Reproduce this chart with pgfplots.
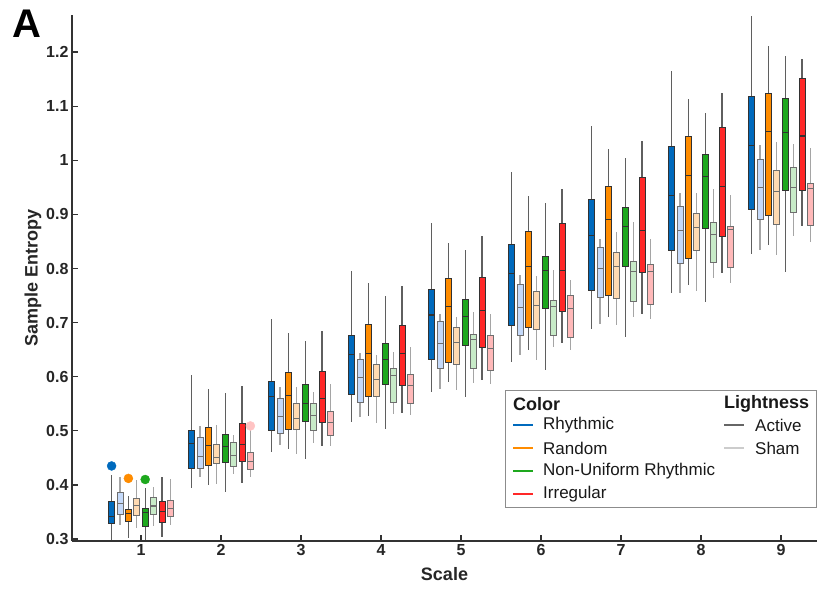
\documentclass[border=0pt]{standalone}
\usepackage{fontspec}
\setmainfont{Liberation Sans}
\usepackage{pgfplots}
\usepackage{pgfplotstable}
\pgfplotsset{compat=1.18}
\usepgfplotslibrary{statistics}

\definecolor{RA}{RGB}{0,106,189}
\definecolor{RS}{RGB}{197,218,250}
\definecolor{NA}{RGB}{255,140,0}
\definecolor{NS}{RGB}{255,218,178}
\definecolor{GA}{RGB}{30,168,30}
\definecolor{GS}{RGB}{200,235,200}
\definecolor{IA}{RGB}{255,40,40}
\definecolor{IS}{RGB}{255,185,185}
\definecolor{edgeA}{RGB}{50,50,50}
\definecolor{edgeS}{RGB}{110,110,110}
\definecolor{whA}{RGB}{95,95,95}
\definecolor{whS}{RGB}{165,165,165}

% Rhythmic active
\pgfplotstableread{
lw lq med uq uw
0.298 0.328 0.342 0.369 0.418
0.395 0.431 0.477 0.500 0.603
0.460 0.501 0.564 0.592 0.706
0.517 0.567 0.641 0.677 0.795
0.571 0.632 0.714 0.761 0.885
0.628 0.694 0.791 0.845 0.979
0.689 0.760 0.861 0.928 1.063
0.755 0.833 0.935 1.026 1.165
0.826 0.910 1.027 1.119 1.267
}\tRA
% Rhythmic sham
\pgfplotstableread{
lw lq med uq uw
0.326 0.346 0.366 0.386 0.415
0.415 0.431 0.452 0.487 0.508
0.474 0.495 0.527 0.559 0.581
0.525 0.553 0.599 0.632 0.644
0.577 0.615 0.661 0.702 0.716
0.640 0.677 0.728 0.771 0.788
0.697 0.747 0.800 0.839 0.854
0.754 0.810 0.871 0.914 0.939
0.834 0.891 0.949 1.001 1.028
}\tRS
% Random active
\pgfplotstableread{
lw lq med uq uw
0.301 0.332 0.347 0.355 0.379
0.399 0.436 0.472 0.506 0.577
0.467 0.503 0.565 0.608 0.680
0.528 0.563 0.643 0.697 0.773
0.591 0.626 0.729 0.782 0.848
0.649 0.691 0.804 0.868 0.934
0.711 0.751 0.891 0.951 1.020
0.769 0.819 0.972 1.045 1.113
0.844 0.899 1.053 1.124 1.211
}\tNA
% Random sham
\pgfplotstableread{
lw lq med uq uw
0.320 0.344 0.362 0.375 0.409
0.402 0.440 0.451 0.475 0.511
0.458 0.503 0.522 0.551 0.581
0.515 0.563 0.594 0.622 0.640
0.575 0.622 0.664 0.691 0.711
0.631 0.687 0.731 0.758 0.786
0.696 0.744 0.803 0.829 0.868
0.758 0.833 0.875 0.901 0.940
0.825 0.882 0.942 0.982 1.034
}\tNS
% Non-Uniform Rhythmic active
\pgfplotstableread{
lw lq med uq uw
0.298 0.324 0.349 0.357 0.394
0.387 0.441 0.471 0.493 0.569
0.447 0.518 0.551 0.585 0.666
0.503 0.586 0.632 0.662 0.750
0.563 0.658 0.712 0.743 0.834
0.612 0.726 0.797 0.823 0.922
0.674 0.803 0.877 0.913 1.005
0.739 0.874 0.970 1.010 1.088
0.794 0.945 1.051 1.114 1.193
}\tGA
% Non-Uniform Rhythmic sham
\pgfplotstableread{
lw lq med uq uw
0.324 0.346 0.361 0.376 0.396
0.420 0.435 0.454 0.479 0.493
0.477 0.500 0.529 0.551 0.571
0.531 0.553 0.603 0.615 0.645
0.589 0.615 0.669 0.679 0.720
0.654 0.676 0.730 0.741 0.797
0.710 0.739 0.794 0.813 0.886
0.782 0.811 0.863 0.885 0.947
0.861 0.904 0.949 0.987 1.030
}\tGS
% Irregular active
\pgfplotstableread{
lw lq med uq uw
0.304 0.331 0.350 0.370 0.414
0.404 0.443 0.475 0.513 0.583
0.471 0.516 0.560 0.609 0.684
0.533 0.583 0.643 0.695 0.768
0.594 0.655 0.723 0.783 0.860
0.662 0.721 0.796 0.884 0.947
0.716 0.793 0.871 0.969 1.036
0.792 0.860 0.951 1.061 1.124
0.879 0.945 1.045 1.151 1.188
}\tIA
% Irregular sham
\pgfplotstableread{
lw lq med uq uw
0.326 0.341 0.357 0.372 0.411
0.415 0.428 0.444 0.460 0.501
0.471 0.492 0.516 0.535 0.587
0.529 0.551 0.583 0.604 0.654
0.587 0.612 0.652 0.676 0.715
0.649 0.673 0.726 0.750 0.779
0.706 0.733 0.795 0.808 0.855
0.774 0.802 0.872 0.878 0.935
0.849 0.879 0.948 0.957 1.022
}\tIS

\pgfplotsset{
  boxsty/.style n args={3}{%
    boxplot/every box/.style={draw=#2, fill=#1, line width=0.8bp},
    boxplot/every whisker/.style={draw=#3, line width=1.2bp},
    boxplot/every median/.style={draw=#2, line width=1.1bp},
  },
}

% #1 table, #2 offset, #3 fill, #4 edge, #5 whisker colour
\newcommand{\boxseries}[5]{%
  \pgfplotsinvokeforeach{0,...,8}{%
    \pgfplotstablegetelem{##1}{lw}\of#1\let\bLW\pgfplotsretval
    \pgfplotstablegetelem{##1}{lq}\of#1\let\bLQ\pgfplotsretval
    \pgfplotstablegetelem{##1}{med}\of#1\let\bMED\pgfplotsretval
    \pgfplotstablegetelem{##1}{uq}\of#1\let\bUQ\pgfplotsretval
    \pgfplotstablegetelem{##1}{uw}\of#1\let\bUW\pgfplotsretval
    \pgfmathsetmacro\bPOS{##1+1+(#2)}%
    \edef\doplot{\noexpand\addplot[boxsty={#3}{#4}{#5},
      boxplot prepared={draw direction=y, draw position=\bPOS, lower whisker=\bLW,
        lower quartile=\bLQ, median=\bMED, upper quartile=\bUQ,
        upper whisker=\bUW, box extend=0.075, whisker extend=0}]
      coordinates {};}%
    \doplot
  }%
}

\begin{document}
\begin{tikzpicture}
\path[use as bounding box] (-72bp,-48bp) rectangle (752bp,541bp);
\begin{axis}[
  at={(0,0)}, anchor=south west,
  scale only axis, width=745bp, height=526bp,
  xmin=0.1375, xmax=9.45,
  ymin=0.2963, ymax=1.2686,
  axis lines*=left,
  axis line style={-, line width=1.6bp, black!80},
  tick align=inside,
  major tick length=6bp,
  tick style={line width=1.4bp, black!80},
  xtick={1,2,3,4,5,6,7,8,9},
  ytick={0.3,0.4,0.5,0.6,0.7,0.8,0.9,1,1.1,1.2},
  /pgf/number format/assume math mode=true,
  ticklabel style={font=\bfseries\fontsize{16bp}{19bp}\selectfont, text=black!85},
  xlabel={Scale},
  ylabel={Sample Entropy},
  label style={font=\bfseries\fontsize{18bp}{21bp}\selectfont, text=black!85},
  xlabel style={yshift=-5bp},
  ylabel style={yshift=-2bp},
  clip=false,
]
\boxseries{\tRA}{-0.3675}{RA}{edgeA}{whA}
\boxseries{\tRS}{-0.2625}{RS}{edgeS}{whS}
\boxseries{\tNA}{-0.1575}{NA}{edgeA}{whA}
\boxseries{\tNS}{-0.0525}{NS}{edgeS}{whS}
\boxseries{\tGA}{0.0525}{GA}{edgeA}{whA}
\boxseries{\tGS}{0.1575}{GS}{edgeS}{whS}
\boxseries{\tIA}{0.2625}{IA}{edgeA}{whA}
\boxseries{\tIS}{0.3675}{IS}{edgeS}{whS}
% outliers
\addplot[only marks, mark=*, mark size=4.5bp, color=RA] coordinates {(0.6325,0.435)};
\addplot[only marks, mark=*, mark size=4.5bp, color=NA] coordinates {(0.8425,0.412)};
\addplot[only marks, mark=*, mark size=4.5bp, color=GA] coordinates {(1.0525,0.410)};
\addplot[only marks, mark=*, mark size=4.5bp, color=IS!85!white] coordinates {(2.3675,0.509)};
\end{axis}
% panel letter
\node[anchor=north west, inner sep=0, font=\bfseries\fontsize{40bp}{40bp}\selectfont] at (-60bp,531bp) {A};
% legend
\draw[black!45, line width=0.9bp, fill=white] (433bp,34bp) rectangle (744bp,151bp);
\begin{scope}[every node/.style={anchor=west, inner sep=0, font=\fontsize{17bp}{20bp}\selectfont, text=black!90}]
\node[font=\bfseries\fontsize{18bp}{21bp}\selectfont] at (441bp,137bp) {Color};
\node[font=\bfseries\fontsize{18bp}{21bp}\selectfont] at (652bp,137bp) {Lightness};
\draw[RA, line width=2.5bp] (441bp,116bp) -- (461bp,116bp);
\node at (471bp,116bp) {Rhythmic};
\draw[NA, line width=2.5bp] (441bp,93bp) -- (461bp,93bp);
\node at (471bp,93bp) {Random};
\draw[GA, line width=2.5bp] (441bp,70bp) -- (461bp,70bp);
\node at (471bp,70bp) {Non-Uniform Rhythmic};
\draw[IA, line width=2.5bp] (441bp,47bp) -- (461bp,47bp);
\node at (471bp,47bp) {Irregular};
\draw[black!60, line width=2.5bp] (652bp,116bp) -- (672bp,116bp);
\node at (683bp,116bp) {Active};
\draw[black!20, line width=2.5bp] (652bp,93bp) -- (672bp,93bp);
\node at (683bp,93bp) {Sham};
\end{scope}
\end{tikzpicture}
\end{document}
